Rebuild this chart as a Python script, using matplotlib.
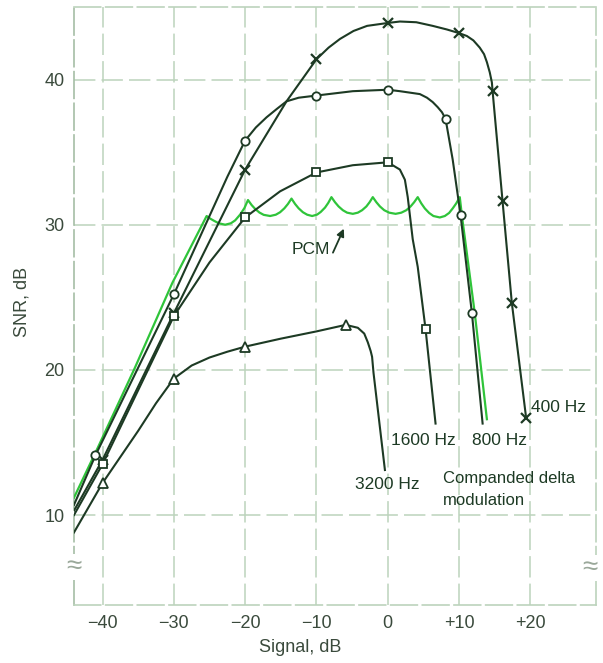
import matplotlib.pyplot as plt

plt.rcParams['font.family'] = ['Liberation Sans', 'DejaVu Sans']

# 400 Hz (x markers)
x400 = [-44, -40, -30, -20, -14.2, -10, -8.3, -6.7, -4.8, -2.9, 0, 1.7, 4.0, 6.3, 8.3, 10,
        11.1, 12.0, 12.9, 13.5, 13.9, 14.3, 14.6, 14.7, 16.1, 17.4, 19.4]
y400 = [10.3, 13.8, 23.9, 33.8, 38.5, 41.4, 42.2, 42.8, 43.35, 43.7, 43.9, 44.0, 43.95, 43.7, 43.45, 43.2,
        43.0, 42.7, 42.2, 41.75, 41.2, 40.5, 39.8, 39.2, 31.6, 24.6, 16.7]
m400_x = [-40, -30, -20, -10, 0, 10, 14.7, 16.1, 17.4, 19.4]
m400_y = [13.8, 23.9, 33.8, 41.4, 43.9, 43.2, 39.2, 31.6, 24.6, 16.7]

# 800 Hz (circles)
x800 = [-44, -41, -30, -22.5, -20, -18.5, -17.0, -15.5, -14.2, -12.5, -10, -4.9, 0, 1.7, 4.5,
        5.5, 6.3, 7.0, 7.6, 8.1, 9.1, 10.2, 11.8, 13.3]
y800 = [10.7, 14.1, 25.2, 33.3, 35.8, 36.7, 37.4, 38.0, 38.5, 38.75, 38.9, 39.2, 39.3, 39.2, 39.0,
        38.75, 38.45, 38.1, 37.75, 37.3, 34.5, 30.7, 23.9, 16.3]
m800_x = [-41, -30, -20, -10, 0, 8.1, 10.2, 11.8]
m800_y = [14.1, 25.2, 35.8, 38.9, 39.3, 37.3, 30.7, 23.9]

# 1600 Hz (squares)
x1600 = [-44, -40, -30, -25, -20, -15.1, -10, -4.9, 0, 1.7, 2.4, 2.8, 3.5, 4.2, 5.3, 6.7]
y1600 = [10.0, 13.5, 23.7, 27.4, 30.5, 32.3, 33.6, 34.1, 34.3, 33.8, 33.1, 31.9, 29.0, 27.1, 22.8, 16.3]
m1600_x = [-40, -30, -20, -10, 0, 5.3]
m1600_y = [13.5, 23.7, 30.5, 33.6, 34.3, 22.8]

# 3200 Hz (triangles)
x3200 = [-44, -40, -35, -32.5, -30, -27.5, -25, -22.5, -20, -15, -10, -5.9,
         -4.2, -3.3, -2.8, -2.4, -2.2, -2.0, -0.4]
y3200 = [8.8, 12.2, 15.8, 17.7, 19.4, 20.3, 20.85, 21.25, 21.6, 22.15, 22.65, 23.1,
         22.9, 22.5, 21.9, 21.3, 20.9, 19.8, 13.1]
m3200_x = [-40, -30, -20, -5.9]
m3200_y = [12.2, 19.4, 21.6, 23.1]

# PCM (green, scalloped)
pcm_x = [-44, -40.7, -35.5, -30.2, -25.4,
         -24.9, -24.4, -23.7, -22.8, -22.0, -21.4, -20.7, -20.1, -19.6,
         -19.1, -18.6, -18.0, -17.4, -16.5, -15.7, -15.1, -14.5, -14.0, -13.5,
         -13.0, -12.5, -11.9, -11.3, -10.6, -9.9, -9.4, -8.8, -8.35, -7.9,
         -7.4, -6.9, -6.3, -5.7, -4.9, -4.2, -3.6, -3.0, -2.55, -2.1,
         -1.6, -1.1, -0.5, 0.2, 1.1, 1.9, 2.6, 3.2, 3.7, 4.2,
         4.7, 5.2, 5.8, 6.4, 7.3, 8.0, 8.6, 9.1, 9.6, 10.1,
         10.4, 12.2, 13.9]
pcm_y = [11.2, 14.6, 20.1, 26.0, 30.6,
         30.42, 30.28, 30.1, 30.0, 30.1, 30.3, 30.7, 31.15, 31.7,
         31.36, 31.09, 30.84, 30.68, 30.6, 30.69, 30.86, 31.13, 31.43, 31.8,
         31.43, 31.13, 30.86, 30.69, 30.6, 30.7, 30.88, 31.18, 31.5, 31.9,
         31.55, 31.26, 31.0, 30.83, 30.75, 30.83, 31.0, 31.26, 31.55, 31.9,
         31.55, 31.26, 31.0, 30.83, 30.75, 30.83, 31.0, 31.26, 31.55, 31.9,
         31.47, 31.12, 30.81, 30.6, 30.5, 30.6, 30.81, 31.12, 31.47, 31.9,
         30.6, 23.9, 16.6]

xticks = [-40, -30, -20, -10, 0, 10, 20]
xticklabels = ['\u221240', '\u221230', '\u221220', '\u221210', '0', '+10', '+20']
yticks = [10, 20, 30, 40]

dark = '#1d3a24'
green = '#2fc43a'
gridc = '#bcd3bc'
txt = '#3a4a3c'

fig = plt.figure(figsize=(6.03, 6.63), dpi=100)
ax = fig.add_axes([74/603, 1-605/663, (596-74)/603, (605-7)/663])

ax.plot(pcm_x, pcm_y, color=green, lw=1.6, zorder=3)
ax.plot(x400, y400, color=dark, lw=1.5, zorder=4)
ax.plot(x800, y800, color=dark, lw=1.5, zorder=4)
ax.plot(x1600, y1600, color=dark, lw=1.5, zorder=4)
ax.plot(x3200, y3200, color=dark, lw=1.5, zorder=4)

ax.plot(m400_x, m400_y, 'x', color=dark, ms=6.5, mew=1.6, zorder=5)
ax.plot(m800_x, m800_y, 'o', mfc='white', mec=dark, ms=6, mew=1.3, zorder=5)
ax.plot(m1600_x, m1600_y, 's', mfc='white', mec=dark, ms=6, mew=1.3, zorder=5)
ax.plot(m3200_x, m3200_y, '^', mfc='white', mec=dark, ms=7, mew=1.3, zorder=5)

ax.set_xlim(-44, 29.2)
ax.set_ylim(3.8, 45)
ax.set_xticks(xticks)
ax.set_xticklabels(xticklabels)
ax.set_yticks(yticks)
ax.tick_params(length=0, labelsize=13, labelcolor=txt, pad=7)
ax.grid(True, color=gridc, lw=1.1, linestyle=(0, (14, 4)))
for s in ax.spines.values():
    s.set_color(gridc)
    s.set_linewidth(1.2)
    s.set_linestyle((0, (16, 3)))
ax.spines['left'].set_color('#a5bea5')

# curve labels
ax.text(-4.6, 12.1, '3200 Hz', fontsize=12.5, color=dark, va='center')
ax.text(0.4, 15.1, '1600 Hz', fontsize=12.5, color=dark, va='center')
ax.text(11.8, 15.1, '800 Hz', fontsize=12.5, color=dark, va='center')
ax.text(20.1, 17.4, '400 Hz', fontsize=12.5, color=dark, va='center')
ax.text(7.7, 12.5, 'Companded delta', fontsize=12, color=dark, va='center')
ax.text(7.7, 11.0, 'modulation', fontsize=12, color=dark, va='center')
ax.text(-10.8, 28.3, 'PCM', fontsize=12.5, color=dark, ha='center', va='center')
ax.annotate('', xy=(-6.0, 29.9), xytext=(-7.85, 27.9),
            arrowprops=dict(arrowstyle='-|>', color=dark, lw=1.3, mutation_scale=11))

# axis break marks
brk = dict(fontsize=20, color='#9aa89a', ha='center', va='center', clip_on=False, zorder=6,
           bbox=dict(facecolor='white', edgecolor='none', pad=0))
ax.text(-44, 6.4, '\u2248', **brk)
ax.text(28.3, 6.35, '\u2248', **brk)

fig.text(300/603, 1-648/663, 'Signal, dB', fontsize=13, color=txt, ha='center', va='center')
fig.text(22/603, 1-302/663, 'SNR, dB', fontsize=13, color=txt, ha='center', va='center', rotation=90)

plt.savefig('out.png', dpi=100, facecolor='white')
